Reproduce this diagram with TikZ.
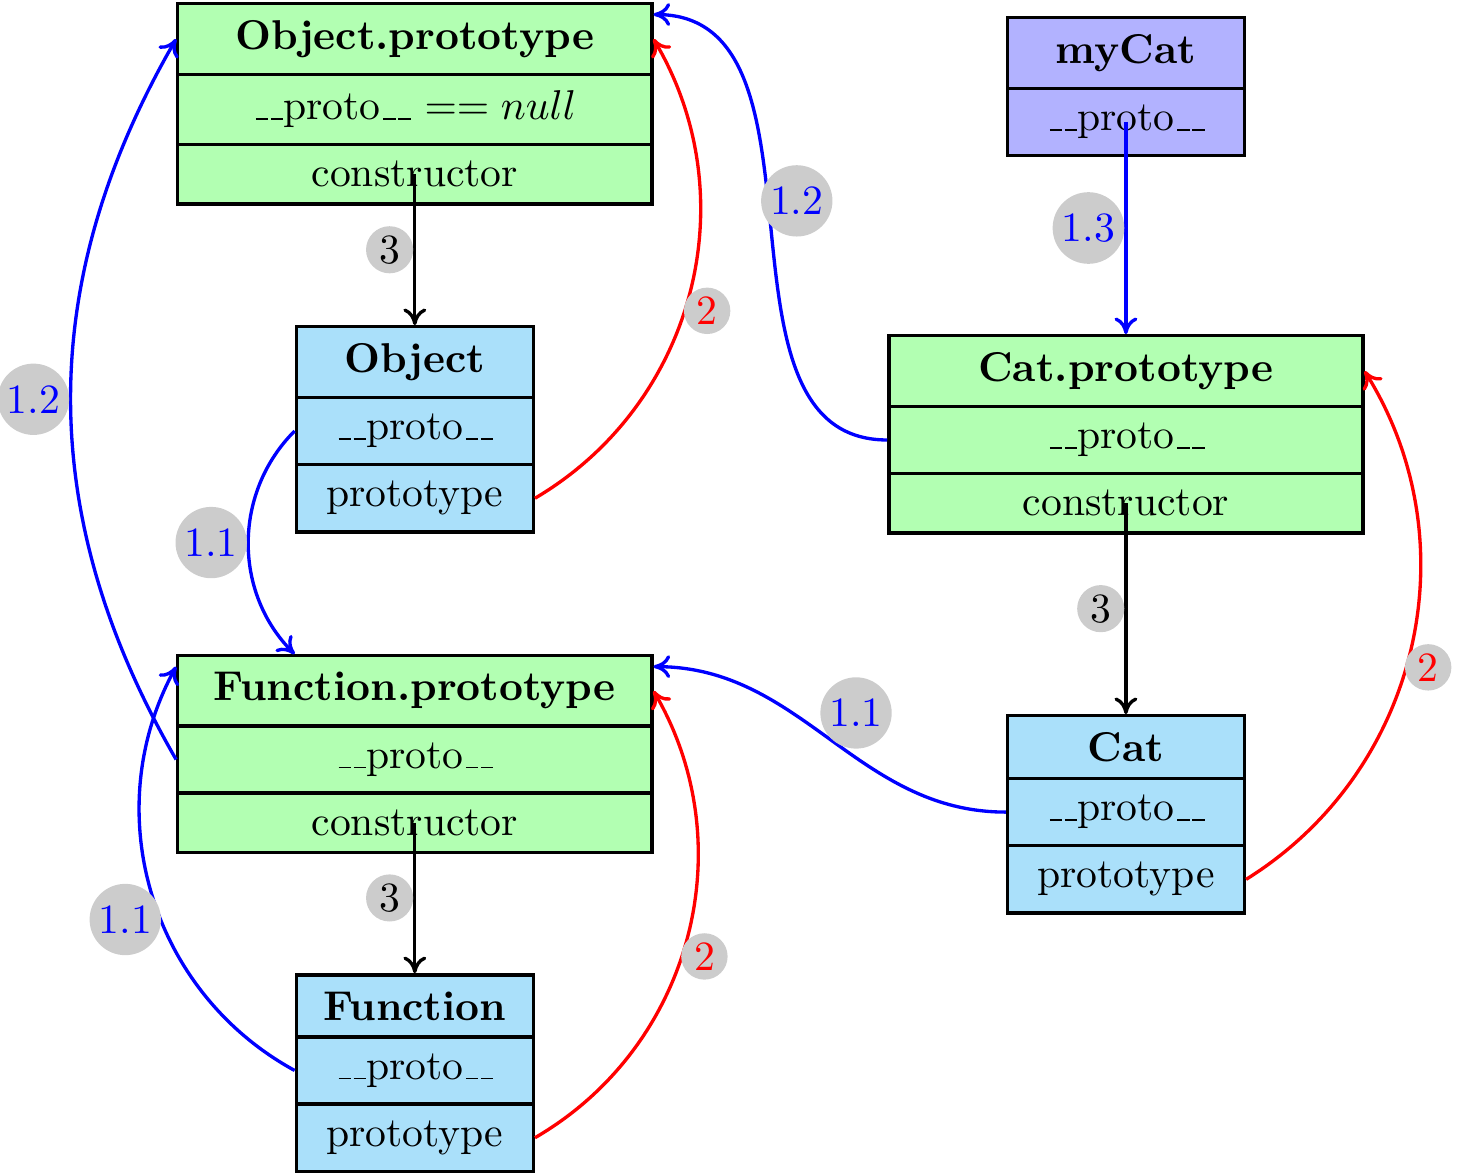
\documentclass[tikz,border=0pt]{standalone}
\usetikzlibrary{shapes.multipart,arrows.meta}
\definecolor{fnblue}{RGB}{170,224,250}
\newcommand\usc{\leavevmode\kern.06em\vbox{\hrule width.3em}}
\newcommand\protofield{\usc\usc proto\usc\usc}
\begin{document}
\begin{tikzpicture}[thick, >={Computer Modern Rightarrow[length=4pt,width=5.5pt]},
    obj/.style={rectangle split, rectangle split parts=3, draw, minimum width=2cm,
      inner ysep=3.6pt, fill=fnblue, anchor=north},
    proto/.style={obj, minimum width=4cm, fill=green!30},
    lbl/.style={circle, fill=gray!40, inner sep=1pt}]
  \useasboundingbox (0,0) rectangle (12.42,-9.92);
  \node[proto] (Objproto) at (3.5,-0.017)
    {\textbf{Object.prototype}\nodepart{two}\protofield{} $== null$\nodepart{three}constructor};
  \node[obj] (Object) at (3.5,-2.743)
    {\textbf{Object}\nodepart{two}\protofield\nodepart{three}prototype};
  \node[proto] (Funcproto) at (3.5,-5.519)
    {\textbf{Function.prototype}\nodepart{two}\protofield\nodepart{three}constructor};
  \node[obj] (Function) at (3.5,-8.211)
    {\textbf{Function}\nodepart{two}\protofield\nodepart{three}prototype};
  \node[obj, rectangle split parts=2, fill=blue!30] (myCat) at (9.5,-0.135)
    {\textbf{myCat}\nodepart{two}\protofield};
  \node[proto] (Catproto) at (9.5,-2.819)
    {\textbf{Cat.prototype}\nodepart{two}\protofield\nodepart{three}constructor};
  \node[obj] (Cat) at (9.5,-6.025)
    {\textbf{Cat}\nodepart{two}\protofield\nodepart{three}prototype};

  \foreach \a/\b in {Objproto/Object, Funcproto/Function, Catproto/Cat}
    \draw[->] (\a.south |- \a.three east) -- node[lbl, left] {3} (\b.north);
  \foreach \a/\b in {Object/Objproto, Function/Funcproto, Cat/Catproto}
    \draw[->, red] (\a.three east) to[bend right=45] node[lbl, below right] {2} (\b.text east);

  \draw[->, blue] (myCat.south |- myCat.two east) -- node[lbl, left] {1.3} (Catproto.north);
  \draw[->, blue] (Object.two west) to[bend right=45] node[lbl, left] {1.1}
    (Object.two west |- Funcproto.north);
  \draw[->, blue] (Funcproto.two west) to[bend left=30] node[lbl, left] {1.2} (Objproto.text west);
  \draw[->, blue] (Function.two west) to[bend left=45] node[lbl, below left] {1.1}
    ([yshift=-3pt]Funcproto.north west);
  \draw[->, blue] (Cat.two west) to[out=180, in=0] node[lbl, above right] {1.1}
    ([yshift=-3pt]Funcproto.north east);
  \draw[->, blue] (Catproto.two west) to[out=180, in=0] node[lbl, above right] {1.2}
    ([yshift=-3pt]Objproto.north east);
\end{tikzpicture}
\end{document}
